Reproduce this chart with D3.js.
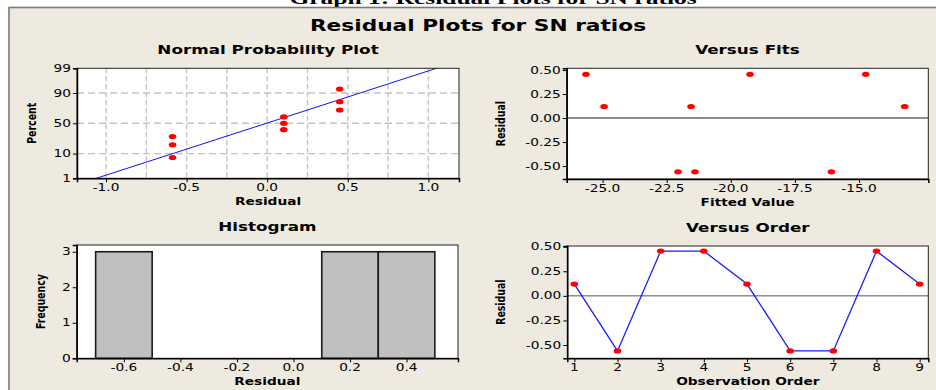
<!DOCTYPE html>
<html><head><meta charset="utf-8">
<script src="https://cdn.jsdelivr.net/npm/d3@7"></script>
<style>body{margin:0;background:#fff}svg{display:block}</style>
</head><body><svg id="c" width="936" height="390"></svg>
<script>
// ---------- data ----------
const nppResiduals = [-0.587, -0.587, -0.587, 0.103, 0.103, 0.103, 0.45, 0.45, 0.45];
const nppPercents = [7.4, 18.1, 28.7, 39.4, 50, 60.6, 71.3, 81.9, 92.6];
const nppFitLine = [{r: -1.06, p: 1}, {r: 1.05, p: 99}];
const nppYTicks = [1, 10, 50, 90, 99];
const nppXTicks = [-1.0, -0.5, 0.0, 0.5, 1.0];

const fitValues = [-25.65, -24.94, -22.06, -21.55, -21.4, -19.25, -16.08, -14.74, -13.22];
const fitResiduals = [0.455, 0.12, -0.56, 0.12, -0.56, 0.455, -0.56, 0.455, 0.12];
const fitXTicks = [-25.0, -22.5, -20.0, -17.5, -15.0];
const residTicks = [-0.50, -0.25, 0.00, 0.25, 0.50];

const histBinStart = [-0.7, -0.5, -0.3, -0.1, 0.1, 0.3];
const histCounts = [3, 0, 0, 0, 3, 3];
const histXTicks = [-0.6, -0.4, -0.2, 0.0, 0.2, 0.4];
const histYTicks = [0, 1, 2, 3];

const orderIndex = [1, 2, 3, 4, 5, 6, 7, 8, 9];
const orderResiduals = [0.12, -0.56, 0.455, 0.455, 0.12, -0.56, -0.56, 0.455, 0.12];

// ---------- helpers ----------
const SX = 1.4; // horizontal stretch of the source picture
const loc = d3.formatLocale({decimal: ".", thousands: ",", grouping: [3], currency: ["", ""], minus: "-"});
const f1 = loc.format(".1f"), f2 = loc.format(".2f");
const svg = d3.select("#c");
const FONT = "'DejaVu Sans', Verdana, sans-serif";

function probit(p) { // inverse standard normal CDF (Acklam) - used as the axis transform
  const a = [-3.969683028665376e+01, 2.209460984245205e+02, -2.759285104469687e+02, 1.383577518672690e+02, -3.066479806614716e+01, 2.506628277459239e+00];
  const b = [-5.447609879822406e+01, 1.615858368580409e+02, -1.556989798598866e+02, 6.680131188771972e+01, -1.328068155288572e+01];
  const c = [-7.784894002430293e-03, -3.223964580411365e-01, -2.400758277161838e+00, -2.549671010229782e+00, 4.374664141464968e+00, 2.938163982698783e+00];
  const d = [7.784695709041462e-03, 3.224671290700398e-01, 2.445134137142996e+00, 3.754408661907416e+00];
  const pl = 0.02425;
  let q, r;
  if (p < pl) { q = Math.sqrt(-2 * Math.log(p)); return (((((c[0]*q+c[1])*q+c[2])*q+c[3])*q+c[4])*q+c[5]) / ((((d[0]*q+d[1])*q+d[2])*q+d[3])*q+1); }
  if (p > 1 - pl) { q = Math.sqrt(-2 * Math.log(1 - p)); return -(((((c[0]*q+c[1])*q+c[2])*q+c[3])*q+c[4])*q+c[5]) / ((((d[0]*q+d[1])*q+d[2])*q+d[3])*q+1); }
  q = p - 0.5; r = q * q;
  return (((((a[0]*r+a[1])*r+a[2])*r+a[3])*r+a[4])*r+a[5])*q / (((((b[0]*r+b[1])*r+b[2])*r+b[3])*r+b[4])*r+1);
}

function text(g, str, x, y, opts) {
  const o = Object.assign({size: 10, weight: "normal", anchor: "middle", rot: 0, fill: "#000", family: FONT}, opts || {});
  return g.append("text")
    .attr("transform", `translate(${x},${y}) scale(${o.sx || SX},1)` + (o.rot ? ` rotate(${o.rot})` : ""))
    .attr("text-anchor", o.anchor)
    .attr("font-family", o.family)
    .attr("font-size", o.size)
    .attr("font-weight", o.weight)
    .attr("fill", o.fill)
    .text(str);
}

// yTicks are given in the y scale's domain; yFmt turns them into labels
function panel(box, xScale, yScale, xTicks, yTicks, xFmt, yFmt, title, xLabel, yLabel, yLabelX) {
  const g = svg.append("g");
  g.append("rect").attr("x", box.l).attr("y", box.t).attr("width", box.r - box.l).attr("height", box.b - box.t)
    .attr("fill", "#fff");
  const inner = g.append("g");
  const frame = g.append("g");
  frame.append("rect").attr("x", box.l).attr("y", box.t).attr("width", box.r - box.l).attr("height", box.b - box.t)
    .attr("fill", "none").attr("stroke", "#222").attr("stroke-width", 1);
  const xa = d3.axisBottom(xScale).tickValues(xTicks).tickFormat(xFmt).tickSize(4).tickPadding(3);
  const ya = d3.axisLeft(yScale).tickValues(yTicks).tickFormat(yFmt).tickSize(4).tickPadding(3);
  const gx = frame.append("g").attr("transform", `translate(0,${box.b})`).call(xa);
  const gy = frame.append("g").attr("transform", `translate(${box.l},0)`).call(ya);
  [gx, gy].forEach(a => {
    a.select(".domain").attr("stroke", "#000").attr("stroke-width", 1.5);
    a.selectAll(".tick line").attr("stroke", "#000");
    a.selectAll(".tick text").remove();
  });
  xTicks.forEach(v => text(frame, xFmt(v), xScale(v), box.b + 13, {size: 9.8}));
  yTicks.forEach(v => text(frame, yFmt(v), box.l - 6, yScale(v) + 3.5, {size: 9.8, anchor: "end"}));
  text(g, title, (box.l + box.r) / 2, box.t - 14, {size: 12, weight: "bold"});
  text(g, xLabel, (box.l + box.r) / 2, box.b + 26.5, {size: 9.8, weight: "bold"});
  text(g, yLabel, yLabelX, (box.t + box.b) / 2, {size: 9.4, weight: "bold", rot: -90}).attr("dy", "0.35em");
  return inner;
}

// ---------- background ----------
text(svg, "Graph 1: Residual Plots for SN ratios", 493, 3.5, {size: 17, weight: "bold", family: "'Liberation Serif', serif", sx: 1.5});
svg.append("rect").attr("x", 9).attr("y", 7.5).attr("width", 940).attr("height", 400)
  .attr("fill", "#EEEAE0").attr("stroke", "#7a7a7a").attr("stroke-width", 1.6);
text(svg, "Residual Plots for SN ratios", 478, 30.5, {size: 15.5, weight: "bold"});

// ---------- Normal probability plot ----------
{
  const box = {l: 77, r: 459, t: 68.3, b: 178.3};
  const x = d3.scaleLinear().domain([-1.18, 1.19]).range([box.l, box.r]);
  const zy = d3.scaleLinear().domain([probit(0.01), probit(0.99)]).range([box.b, box.t]);
  const y = p => zy(probit(p / 100));
  const zTicks = nppYTicks.map(p => probit(p / 100));
  const g = panel(box, x, zy, nppXTicks, zTicks, f1, z => String(nppYTicks[zTicks.indexOf(z)]),
    "Normal Probability Plot", "Residual", "Percent", 31.5);
  const vGrid = d3.range(-4, 5).map(i => i * 0.25);
  g.selectAll(".vg").data(vGrid).join("line").attr("x1", d => x(d)).attr("x2", d => x(d))
    .attr("y1", box.t).attr("y2", box.b).attr("stroke", "#c4c4c4").attr("stroke-width", 1.4).attr("stroke-dasharray", "5,3");
  g.selectAll(".hg").data([10, 50, 90]).join("line").attr("x1", box.l).attr("x2", box.r)
    .attr("y1", d => y(d)).attr("y2", d => y(d)).attr("stroke", "#c4c4c4").attr("stroke-width", 1.4).attr("stroke-dasharray", "7,4");
  g.append("path").datum(nppFitLine).attr("fill", "none").attr("stroke", "#1010ff").attr("stroke-width", 1)
    .attr("d", d3.line().x(d => x(d.r)).y(d => y(d.p)));
  g.selectAll(".pt").data(nppResiduals).join("ellipse").attr("cx", d => x(d)).attr("cy", (d, i) => y(nppPercents[i]))
    .attr("rx", 3.8).attr("ry", 2.6).attr("fill", "#ff0000");
}

// ---------- Versus fits ----------
{
  const box = {l: 566.7, r: 928.3, t: 68.3, b: 179};
  const x = d3.scaleLinear().domain([-26.4, -12.3]).range([box.l, box.r]);
  const y = d3.scaleLinear().domain([-0.635, 0.518]).range([box.b, box.t]);
  const g = panel(box, x, y, fitXTicks, residTicks, f1, f2, "Versus Fits", "Fitted Value", "Residual", 500);
  g.append("line").attr("x1", box.l).attr("x2", box.r).attr("y1", y(0)).attr("y2", y(0))
    .attr("stroke", "#8c8c8c").attr("stroke-width", 2);
  g.selectAll(".pt").data(fitValues).join("ellipse").attr("cx", d => x(d)).attr("cy", (d, i) => y(fitResiduals[i]))
    .attr("rx", 3.8).attr("ry", 2.6).attr("fill", "#ff0000");
}

// ---------- Histogram ----------
{
  const box = {l: 76.7, r: 458, t: 245, b: 358.3};
  const x = d3.scaleLinear().domain([-0.767, 0.582]).range([box.l, box.r]);
  const y = d3.scaleLinear().domain([0, 3.19]).range([box.b, box.t]);
  const g = panel(box, x, y, histXTicks, histYTicks, f1, d => String(d), "Histogram", "Residual", "Frequency", 40);
  g.selectAll(".bar").data(histCounts).join("rect")
    .attr("x", (d, i) => x(histBinStart[i])).attr("width", (d, i) => x(histBinStart[i] + 0.2) - x(histBinStart[i]))
    .attr("y", d => y(d)).attr("height", d => y(0) - y(d))
    .attr("fill", "#c0c0c0").attr("stroke", "#1a1a1a").attr("stroke-width", 1.6);
}

// ---------- Versus order ----------
{
  const box = {l: 567.3, r: 928.3, t: 246, b: 358.3};
  const x = d3.scaleLinear().domain([0.837, 9.2]).range([box.l, box.r]);
  const y = d3.scaleLinear().domain([-0.635, 0.507]).range([box.b, box.t]);
  const g = panel(box, x, y, orderIndex, residTicks, d => String(d), f2, "Versus Order", "Observation Order", "Residual", 500);
  g.append("line").attr("x1", box.l).attr("x2", box.r).attr("y1", y(0)).attr("y2", y(0))
    .attr("stroke", "#555").attr("stroke-width", 1);
  g.append("path").datum(orderResiduals).attr("fill", "none").attr("stroke", "#1a1aff").attr("stroke-width", 1.3)
    .attr("d", d3.line().x((d, i) => x(orderIndex[i])).y(d => y(d)));
  g.selectAll(".pt").data(orderResiduals).join("ellipse").attr("cx", (d, i) => x(orderIndex[i])).attr("cy", d => y(d))
    .attr("rx", 3.8).attr("ry", 2.6).attr("fill", "#ff0000");
}
</script></body></html>
